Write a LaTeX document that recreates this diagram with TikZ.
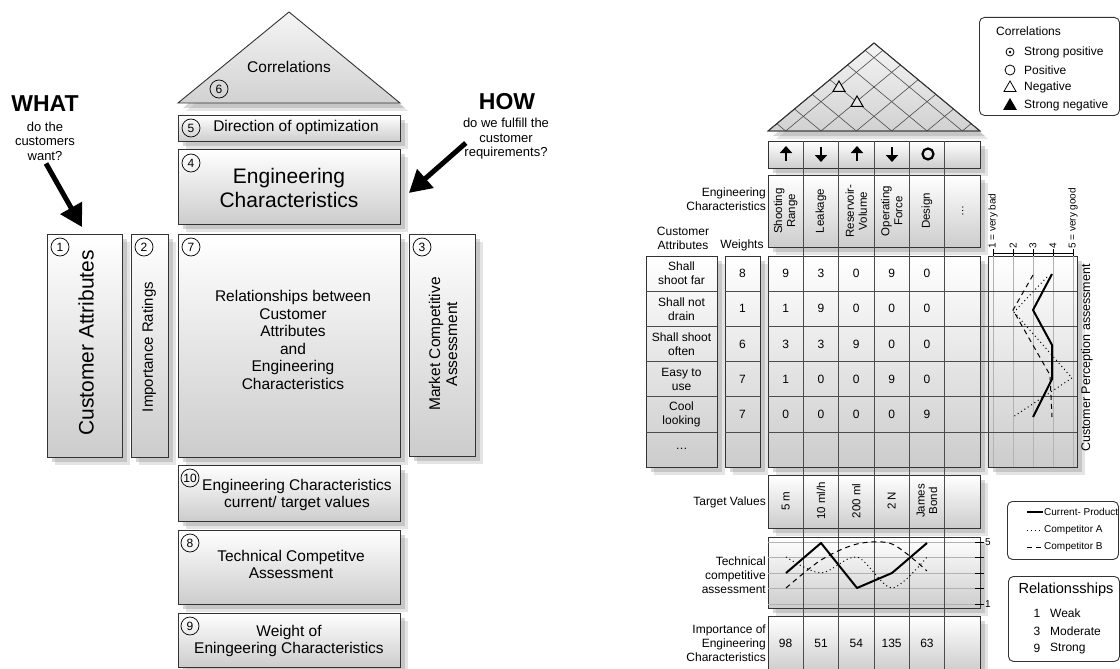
\documentclass[tikz,border=0pt]{standalone}
\usepackage{fontspec}
\setmainfont{Liberation Sans}
\usetikzlibrary{arrows.meta}
\usetikzlibrary{calc}
\usetikzlibrary{positioning}
\usetikzlibrary{shadows}
\usetikzlibrary{shapes.geometric}
\newcommand{\fsz}[2]{\fontsize{#1}{#2}\selectfont}
\tikzset{shadowed/.style = {drop shadow={shadow xshift=8pt, shadow yshift=-8pt, fill=black!30, opacity=0.35},
                            drop shadow={shadow xshift=5pt, shadow yshift=-5pt, fill=black!40, opacity=0.4}}}
\tikzset{panel/.style = {draw=black!80, line width=0.9pt, top color=white, bottom color=black!20,
                         shadowed, inner sep=0, anchor=north west}}
\tikzset{roof/.style = {draw=black!80, line width=0.9pt, top color=black!4, bottom color=black!18, shadowed}}
\tikzset{num/.style = {draw, circle, line width=0.7pt, minimum size=18pt, inner sep=0, font=\fsz{12}{12}}}
\tikzset{txt/.style = {inner sep=0, align=center}}
\tikzset{small/.style = {txt, font=\fsz{12}{14}}}
\tikzset{fatarrow/.style = {line width=5pt, -{Triangle[length=22pt, width=24pt]}}}
\tikzset{optarrow/.style = {line width=2.6pt, -{Triangle[length=7pt, width=12pt]}}}
\tikzset{colline/.style = {draw=black!70, line width=0.6pt}}
\tikzset{rowline/.style = {draw=black!70, line width=0.6pt}}
\tikzset{faint/.style = {draw=black!30, line width=0.6pt}}
\tikzset{cur/.style = {line width=2pt, line join=round}}
\tikzset{compa/.style = {line width=1pt, dash pattern=on 1pt off 3pt}}
\tikzset{compb/.style = {line width=1pt, dash pattern=on 5pt off 4pt}}
\tikzset{legend/.style = {draw=black!80, line width=0.9pt, rounded corners=5pt, fill=white}}
\tikzset{negmark/.style = {draw, line width=1pt, regular polygon, regular polygon sides=3, minimum size=14pt, inner sep=0}}

\begin{document}
\begin{tikzpicture}[x=1pt, y=-1pt]
  \useasboundingbox (0,0) rectangle (1120,669);

  % left: the scheme
  \coordinate (ltop) at (289,12);
  \coordinate (lleft) at (178,103);
  \coordinate (lright) at (400,103);
  \path[roof] (ltop) -- (lleft) -- (lright) -- cycle;
  \node[txt, font=\fsz{15.5}{18}] (corrtxt) at (289,67) {Correlations};
  \node[num] (n6) at (219,89) {6};

  \node[panel, minimum width=222pt, minimum height=26pt] (dirbox) at (178,115) {};
  \node[num] (n5) at (191,128) {5};
  \node[txt, font=\fsz{15.5}{18}] (dirtxt) at (296,127) {Direction of optimization};

  \node[panel, minimum width=222pt, minimum height=75pt] (ecbox) at (178,149) {};
  \node[num] (n4) at (191,163) {4};
  \node[txt, font=\fsz{21}{23.5}] (ectxt) at (289,188) {Engineering\\Characteristics};

  \node[panel, minimum width=75pt, minimum height=223pt] (cabox) at (47,234) {};
  \node[num] (n1) at (60,247) {1};
  \node[txt, font=\fsz{21}{23.5}, rotate=90] (catxt) at (86,343) {Customer Attributes};

  \node[panel, minimum width=37pt, minimum height=223pt] (irbox) at (131,234) {};
  \node[num] (n2) at (144,247) {2};
  \node[txt, font=\fsz{15}{17}, rotate=90] (irtxt) at (149,347) {Importance Ratings};

  \node[panel, minimum width=222pt, minimum height=223pt] (relbox) at (178,234) {};
  \node[num] (n7) at (191,247) {7};
  \node[txt, font=\fsz{15.5}{17.6}] (reltxt) at (293,340)
    {Relationships between\\Customer\\Attributes\\and\\Engineering\\Characteristics};

  \node[panel, minimum width=66pt, minimum height=222pt] (mcbox) at (409,234) {};
  \node[num] (n3) at (422,247) {3};
  \node[txt, font=\fsz{15.5}{17}, rotate=90] (mctxt) at (443,344) {Market Competitive\\Assessment};

  \node[panel, minimum width=222pt, minimum height=56pt] (tvbox) at (178,465) {};
  \node[num] (n10) at (190,478) {10};
  \node[txt, font=\fsz{15.5}{17}] (tvtxt) at (297,495) {Engineering Characteristics\\current/ target values};

  \node[panel, minimum width=222pt, minimum height=74pt] (tcbox) at (178,530) {};
  \node[num] (n8) at (190,543) {8};
  \node[txt, font=\fsz{15.5}{17}] (tctxt) at (291,564) {Technical Competitve\\Assessment};

  \node[panel, minimum width=222pt, minimum height=54pt] (wtbox) at (178,613) {};
  \node[num] (n9) at (190,626) {9};
  \node[txt, font=\fsz{15.5}{17}] (wttxt) at (289,641) {Weight of\\Eningeering Characteristics};

  \node[txt, font=\fsz{23}{23}\bfseries] (what) at (45,104) {WHAT};
  \node[txt, font=\fsz{13}{14.5}] (whatq) at (45,141) {do the\\customers\\want?};
  \draw[fatarrow] ($(whatq.south)+(1,3)$) -- ($(cabox.north)+(-3,-7)$);

  \node[txt, font=\fsz{23}{23}\bfseries] (how) at (507,102) {HOW};
  \node[txt, font=\fsz{13}{14.5}] (howq) at (506,139) {do we fulfill the\\customer\\requirements?};
  \draw[fatarrow] ($(howq.west)+(3,4)$) -- ($(ecbox.east)+(8,6)$);

  % right: the example
  \coordinate (rtop) at (874,43);
  \coordinate (rleft) at (768,131);
  \coordinate (rright) at (980,131);
  \path[roof] (rtop) -- (rleft) -- (rright) -- cycle;
  \begin{scope}
    \clip (rtop) -- (rleft) -- (rright) -- cycle;
    \foreach \k in {1,2,3,4,5,6} {
      \draw[colline] ({768+(\k-0.5)*35.33},131) -- ++(-130,-107.9);
      \draw[colline] ({768+(\k-0.5)*35.33},131) -- ++(130,-107.9);
    }
  \end{scope}
  \draw[draw=black!80, line width=0.9pt] (rtop) -- (rleft) -- (rright) -- cycle;
  \node[negmark, fill=black!8] (neg1) at (839,88) {};
  \node[negmark, fill=black!10] (neg2) at (857,103) {};

  \node[panel, minimum width=212pt, minimum height=27pt] (optrow) at (768,141) {};
  \node[panel, minimum width=212pt, minimum height=72pt] (ecrow) at (768,175) {};
  \node[panel, minimum width=212pt, minimum height=211pt] (matrix) at (768,256) {};
  \node[panel, minimum width=71pt, minimum height=211pt] (cacol) at (646,256) {};
  \node[panel, minimum width=35pt, minimum height=211pt] (wcol) at (725,256) {};
  \node[panel, minimum width=89pt, minimum height=211pt] (cpa) at (988,256) {};
  \node[panel, minimum width=212pt, minimum height=53pt] (tvrow) at (768,475) {};
  \node[panel, minimum width=212pt, minimum height=71pt] (tca) at (768,537) {};
  \node[panel, minimum width=212pt, minimum height=56pt] (improw) at (768,616) {};

  % grid
  \foreach \v in {1,2,3,4,5}
    \draw[faint] ({973+20*\v},256) -- ({973+20*\v},467);
  \foreach \v in {1,2,3,4,5}
    \draw[faint] (768,{619.5-15.5*\v}) -- (980,{619.5-15.5*\v});
  \foreach \r in {1,2,3,4,5} {
    \draw[rowline] (768,{256+\r*35.17}) -- (1077,{256+\r*35.17});
    \draw[rowline] (646,{256+\r*35.17}) -- (717,{256+\r*35.17});
    \draw[rowline] (725,{256+\r*35.17}) -- (760,{256+\r*35.17});
  }
  \foreach \k in {1,2,3,4,5}
    \draw[colline] ({768+\k*35.33},141) -- ({768+\k*35.33},669);

  % direction of optimization
  \draw[optarrow] (786,161) -- (786,146);
  \draw[optarrow] (821,147) -- (821,162);
  \draw[optarrow] (857,161) -- (857,146);
  \draw[optarrow] (892,147) -- (892,162);
  \draw[line width=2.2pt] (928,154) circle[radius=5.5];

  % engineering characteristics
  \foreach \t [count=\c] in {{Shooting\\Range},Leakage,{Reservoir-\\Volume},{Operating\\Force},Design}
    \node[txt, font=\fsz{11.5}{13}, rotate=90] (ec-\c) at ({768+(\c-0.5)*35.33},211) {\t};
  \node[txt, font=\fsz{11}{13}, rotate=90] (ec-6) at (962.7,211) {\ldots};
  \node[txt, font=\fsz{12}{13.5}, anchor=east, align=right] (eclbl) at (766,199) {Engineering\\Characteristics};
  \node[small] (calbl) at (683,238) {Customer\\Attributes};
  \node[small] (wlbl) at (742,245) {Weights};

  % customer attributes, weights, relationships
  \foreach \t [count=\r] in {{Shall\\shoot far},{Shall not\\drain},{Shall shoot\\often},{Easy to\\use},{Cool\\looking}}
    \node[small] (ca-\r) at (681.5,{256+(\r-0.5)*35.17}) {\t};
  \node[small] (ca-6) at (681.5,449) {\ldots};
  \foreach \w [count=\r] in {8,1,6,7,7}
    \node[small] (w-\r) at (742.5,{256+(\r-0.5)*35.17}) {\w};
  \foreach \row [count=\r] in {{9,3,0,9,0},{1,9,0,0,0},{3,3,9,0,0},{1,0,0,9,0},{0,0,0,0,9}}
    \foreach \val [count=\c] in \row
      \node[small] (rel-\r-\c) at ({768+(\c-0.5)*35.33},{256+(\r-0.5)*35.17}) {\val};

  % customer perception
  \draw[line width=0.8pt] (993,253) -- (1073,253);
  \foreach \v in {1,2,3,4,5}
    \draw[line width=0.8pt] ({973+20*\v},249) -- ({973+20*\v},256);
  \node[txt, font=\fsz{10}{10}, rotate=90, anchor=west] (s1) at (993,249) {1 = very bad};
  \node[txt, font=\fsz{10}{10}, rotate=90, anchor=west] (s2) at (1013,249) {2};
  \node[txt, font=\fsz{10}{10}, rotate=90, anchor=west] (s3) at (1033,249) {3};
  \node[txt, font=\fsz{10}{10}, rotate=90, anchor=west] (s4) at (1053,249) {4};
  \node[txt, font=\fsz{10}{10}, rotate=90, anchor=west] (s5) at (1073,249) {5 = very good};
  \node[txt, font=\fsz{12.5}{14}, rotate=90] (cpatxt) at (1087,358) {Customer Perception assessment};
  \draw[cur] (1052,274) -- (1033,310) -- (1052,345) -- (1052,379) -- (1033,417);
  \draw[compa] (1047,277) -- (1014,312) -- (1043,345) -- (1072,378) -- (1013,417);
  \draw[compb] (1033,275) -- (1013,310) -- (1030,340) -- (1050,375) -- (1052,417);

  % target values
  \foreach \t [count=\c] in {5 m,10 ml/h,200 ml,2 N,{James\\Bond}}
    \node[txt, font=\fsz{11.5}{12.5}, rotate=90] (tv-\c) at ({768+(\c-0.5)*35.33},501) {\t};
  \node[small, anchor=east] (tvlbl) at (766,502) {Target Values};

  % technical competitive assessment
  \foreach \v in {1,2,3,4,5}
    \draw[line width=0.8pt] (975,{619.5-15.5*\v}) -- (984,{619.5-15.5*\v});
  \node[txt, font=\fsz{10}{10}, anchor=west] (t5) at (985,542) {5};
  \node[txt, font=\fsz{10}{10}, anchor=west] (t1) at (985,604) {1};
  \node[small, anchor=east, align=right] (tcalbl) at (766,575) {Technical\\competitive\\assessment};
  \draw[cur] (786,573) -- (821,543) -- (857,588) -- (892,573) -- (927,543);
  \draw[compa] plot[smooth] coordinates {(786,557) (821,573) (857,557) (892,588) (927,557)};
  \draw[compb] plot[smooth] coordinates {(786,588) (821,560) (857,544) (892,544) (927,571)};

  % importance
  \foreach \t [count=\c] in {98,51,54,135,63}
    \node[small] (imp-\c) at ({768+(\c-0.5)*35.33},643) {\t};
  \node[small, anchor=east, align=right] (implbl) at (766,643) {Importance of\\Engineering\\Characteristics};

  % legends
  \node[legend, minimum width=140pt, minimum height=98pt, anchor=north west] (corrleg) at (979,17) {};
  \node[small, anchor=west] (corrhead) at (996,31) {Correlations};
  \node[draw, circle, line width=0.8pt, minimum size=8pt, inner sep=0] (sympp) at (1010,52) {};
  \fill (sympp) circle[radius=1.3];
  \node[draw, circle, line width=0.8pt, minimum size=10pt, inner sep=0] (symp) at (1010,70) {};
  \node[negmark, line width=0.8pt] (symn) at (1010,88) {};
  \node[negmark, fill] (symnn) at (1010,106) {};
  \node[small, anchor=west] (lpp) at (1024,52) {Strong positive};
  \node[small, anchor=west] (lp) at (1024,70) {Positive};
  \node[small, anchor=west] (ln) at (1024,87) {Negative};
  \node[small, anchor=west] (lnn) at (1024,105) {Strong negative};

  \node[legend, minimum width=111pt, minimum height=58pt, anchor=north west] (lineleg) at (1007,501) {};
  \draw[line width=1.2pt] (1027,512) -- (1043,512);
  \draw[compa] (1027,530) -- (1043,530);
  \draw[compb] (1027,547) -- (1043,547);
  \node[txt, font=\fsz{10}{10}, anchor=west] (lcur) at (1044,512) {Current- Product};
  \node[txt, font=\fsz{10}{10}, anchor=west] (lca) at (1044,530) {Competitor A};
  \node[txt, font=\fsz{10}{10}, anchor=west] (lcb) at (1044,547) {Competitor B};

  \node[legend, minimum width=111pt, minimum height=85pt, anchor=north west] (relleg) at (1008,576) {};
  \node[txt, font=\fsz{14.6}{16}] (relhead) at (1066,590) {Relationsships};
  \foreach \n/\t [count=\i] in {1/Weak,3/Moderate,9/Strong} {
    \node[small] (rn-\i) at (1037,{596+17.5*\i}) {\n};
    \node[small, anchor=west] (rt-\i) at (1050,{596+17.5*\i}) {\t};
  }
\end{tikzpicture}
\end{document}
